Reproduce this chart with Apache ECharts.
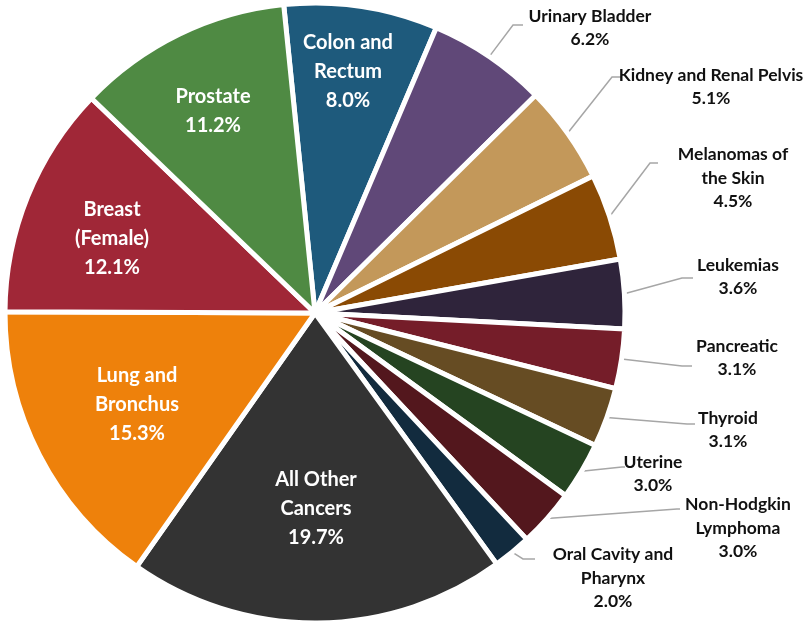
<!DOCTYPE html>
<html>
<head>
<meta charset="utf-8">
<script src="https://cdn.jsdelivr.net/npm/echarts@6/dist/echarts.min.js"></script>
<style>
html,body{margin:0;padding:0;background:#fff;}
#chart{width:810px;height:622px;}
</style>
</head>
<body>
<div id="chart"></div>
<script>
// ---- data ----
const categories = ['Colon and Rectum','Urinary Bladder','Kidney and Renal Pelvis','Melanomas of the Skin','Leukemias','Pancreatic','Thyroid','Uterine','Non-Hodgkin Lymphoma','Oral Cavity and Pharynx','All Other Cancers','Lung and Bronchus','Breast (Female)','Prostate'];
const percents = [8.0,6.2,5.1,4.5,3.6,3.1,3.1,3.0,3.0,2.0,19.7,15.3,12.1,11.2];
const labelText = ['Colon and\nRectum','Urinary Bladder','Kidney and Renal Pelvis','Melanomas of\nthe Skin','Leukemias','Pancreatic','Thyroid','Uterine','Non-Hodgkin\nLymphoma','Oral Cavity and\nPharynx','All Other\nCancers','Lung and\nBronchus','Breast\n(Female)','Prostate'];

// ---- styles / layout ----
const colors = ['#1E5A7C','#604878','#C3985A','#8A4A04','#2F243B','#751D29','#664C23','#254421','#53171D','#122B3E','#333333','#EE810B','#A02737','#4F8A43'];
const insideSet = [true,false,false,false,false,false,false,false,false,false,true,true,true,true];
// label block centres (x, y)
const labelPos = [[348,72],[590,28],[711,87],[733,178],[738,277],[737,358],[728,430],[653,474],[738,528],[613,578],[316,509],[137,405],[112,239],[213,111]];
// leader line: elbow and end points
const leaderElbow = [null,[513,25],[612,77],[650,163],[682,278],[682,366],[687,424],[622,467],[677,509],[523,559],null,null,null,null];
const leaderEnd   = [null,[523,25],[622,77],[658,163],[693,278],[692,366],[695,424],[625,467],[680,509],[535,559],null,null,null,null];

const chart = echarts.init(document.getElementById('chart'), null, {renderer:'canvas'});

const data = categories.map((name, i) => {
  const inside = insideSet[i];
  return {
    name: name,
    value: percents[i],
    itemStyle: { color: colors[i] },
    label: inside ? {
      position: 'inside', color: '#ffffff', fontSize: 20, lineHeight: 29
    } : {
      position: 'outside', color: '#111111', fontSize: 17.5, lineHeight: 23.5
    },
    labelLine: { show: !inside }
  };
});

chart.setOption({
  backgroundColor: '#ffffff',
  animation: false,
  series: [{
    type: 'pie',
    center: [315, 313],
    radius: [0, 310],
    startAngle: 95.8,
    clockwise: true,
    avoidLabelOverlap: false,
    data: data,
    itemStyle: { borderColor: '#ffffff', borderWidth: 5 },
    label: {
      show: true,
      fontFamily: 'Lato',
      fontWeight: 'bold',
      align: 'center',
      formatter: p => labelText[p.dataIndex] + '\n' + p.value.toFixed(1) + '%'
    },
    labelLine: {
      show: true,
      lineStyle: { color: '#A6A6A6', width: 1.5 }
    },
    emphasis: { disabled: true },
    labelLayout: function (params) {
      const i = params.dataIndex;
      const out = { x: labelPos[i][0], y: labelPos[i][1], align: 'center', verticalAlign: 'middle' };
      if (!insideSet[i] && params.labelLinePoints) {
        out.labelLinePoints = [params.labelLinePoints[0], leaderElbow[i], leaderEnd[i]];
      }
      return out;
    }
  }]
});
</script>
</body>
</html>
